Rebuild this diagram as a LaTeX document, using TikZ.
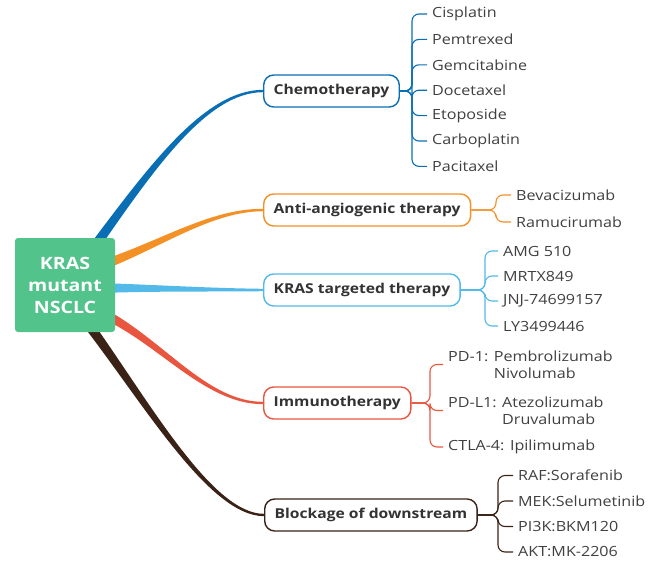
\documentclass[tikz,border=0pt]{standalone}
\usepackage{fontspec}
\setmainfont{Open Sans}[FakeStretch=1.15]
\usetikzlibrary{calc}
\usetikzlibrary{backgrounds}
\definecolor{rootgreen}{RGB}{82,195,138}
\definecolor{chemoblue}{RGB}{10,110,180}
\definecolor{angioorange}{RGB}{243,144,38}
\definecolor{krasblue}{RGB}{82,185,233}
\definecolor{immunored}{RGB}{232,86,64}
\definecolor{blockbrown}{RGB}{58,34,22}
\definecolor{itemgray}{RGB}{64,64,64}

\tikzset{
    root/.style={fill=rootgreen, rounded corners=3pt, minimum width=100, minimum height=94,
        text=white, align=center, font=\fontsize{17}{22}\selectfont\bfseries},
    topic/.style={draw=#1, line width=1.4pt, rounded corners=10pt, fill=white, anchor=west,
        minimum height=32, inner xsep=10pt, text=black!80, font=\fontsize{13.6}{16}\selectfont\bfseries},
    leaf/.style={anchor=west, inner xsep=5pt, inner ysep=0pt, align=left, text=itemgray,
        font=\fontsize{14}{17}\selectfont},
    twig/.style={draw=#1, line width=1.1pt, rounded corners=7pt},
}

% tapered main branch: colour, start, control 1, control 2, end
\newcommand{\limb}[5]{%
    \fill[#1] ($(#2)!5pt!90:(#3)$) .. controls ($(#3)!3pt!90:(#4)$) and ($(#4)!1.8pt!-90:(#3)$) .. ($(#5)!1.2pt!-90:(#4)$)
        -- ($(#5)!1.2pt!90:(#4)$) .. controls ($(#4)!1.8pt!90:(#3)$) and ($(#3)!3pt!-90:(#4)$) .. ($(#2)!5pt!-90:(#3)$) -- cycle;}

\begin{document}
\begin{tikzpicture}[x=1pt, y=-1pt]
    \useasboundingbox (0,0) rectangle (651,560);

    \node[root] (root) at (65,285) {KRAS\\mutant\\NSCLC};

    \node[topic=chemoblue] (chemo) at (263,91) {Chemotherapy};
    \node[topic=angioorange] (angio) at (263,210) {Anti-angiogenic therapy};
    \node[topic=krasblue] (kras) at (263,290) {KRAS targeted therapy};
    \node[topic=immunored] (immuno) at (263,403) {Immunotherapy};
    \node[topic=blockbrown] (block) at (264,515) {Blockage of downstream};

    % main branches behind the boxes
    \begin{scope}[on background layer]
        \coordinate (s1) at (92,250);  \coordinate (a1) at (150,170); \coordinate (b1) at (205,91);
        \coordinate (s2) at (100,266); \coordinate (a2) at (160,245); \coordinate (b2) at (210,210);
        \coordinate (s3) at (100,288); \coordinate (a3) at (160,288); \coordinate (b3) at (210,290);
        \coordinate (s4) at (100,312); \coordinate (a4) at (160,340); \coordinate (b4) at (205,403);
        \coordinate (s5) at (85,320);  \coordinate (a5) at (145,400); \coordinate (b5) at (210,515);
        \limb{chemoblue}{s1}{a1}{b1}{chemo.west}
        \limb{angioorange}{s2}{a2}{b2}{angio.west}
        \limb{krasblue}{s3}{a3}{b3}{kras.west}
        \limb{immunored}{s4}{a4}{b4}{immuno.west}
        \limb{blockbrown}{s5}{a5}{b5}{block.west}
    \end{scope}

    % forks of the sub-branches
    \coordinate (chemo-j) at (412,91);
    \coordinate (angio-j) at (496,210);
    \coordinate (kras-j) at (485,290);
    \coordinate (immuno-j) at (430,403);
    \coordinate (block-j) at (498,515);

    % chemotherapy drugs
    \foreach \drug [count=\k] in {Cisplatin, Pemtrexed, Gemcitabine, Docetaxel, Etoposide, Carboplatin, Pacitaxel} {
        \node[leaf] (chemo\k) at (427,-11.4+25.4*\k) {\drug};
        \draw[twig=chemoblue] (chemo.east) -- (chemo-j) |- (chemo\k.west);
    }

    % anti-angiogenic drugs
    \node[leaf] (angio1) at (511,195) {Bevacizumab};
    \node[leaf] (angio2) at (511,222) {Ramucirumab};
    \foreach \k in {1,2}
        \draw[twig=angioorange] (angio.east) -- (angio-j) |- (angio\k.west);

    % KRAS inhibitors
    \foreach \drug [count=\k] in {AMG 510, MRTX849, JNJ-74699157, LY3499446} {
        \node[leaf] (kras\k) at (498,226+25*\k) {\drug};
        \draw[twig=krasblue] (kras.east) -- (kras-j) |- (kras\k.west);
    }

    % checkpoint inhibitors
    \node[leaf] (immuno1) at (443,364.5) {PD-1: Pembrolizumab\\\phantom{PD-1: }Nivolumab};
    \node[leaf] (immuno2) at (443,410.5) {PD-L1: Atezolizumab\\\phantom{PD-L1: }Druvalumab};
    \node[leaf] (immuno3) at (443,447) {CTLA-4: Ipilimumab};
    \foreach \k in {1,2,3}
        \draw[twig=immunored] (immuno.east) -- (immuno-j) |- (immuno\k.west);

    % downstream pathway
    \foreach \drug [count=\k] in {RAF:Sorafenib, MEK:Selumetinib, PI3K:BKM120, AKT:MK-2206} {
        \node[leaf] (block\k) at (513,450+25.5*\k) {\drug};
        \draw[twig=blockbrown] (block.east) -- (block-j) |- (block\k.west);
    }
\end{tikzpicture}
\end{document}
